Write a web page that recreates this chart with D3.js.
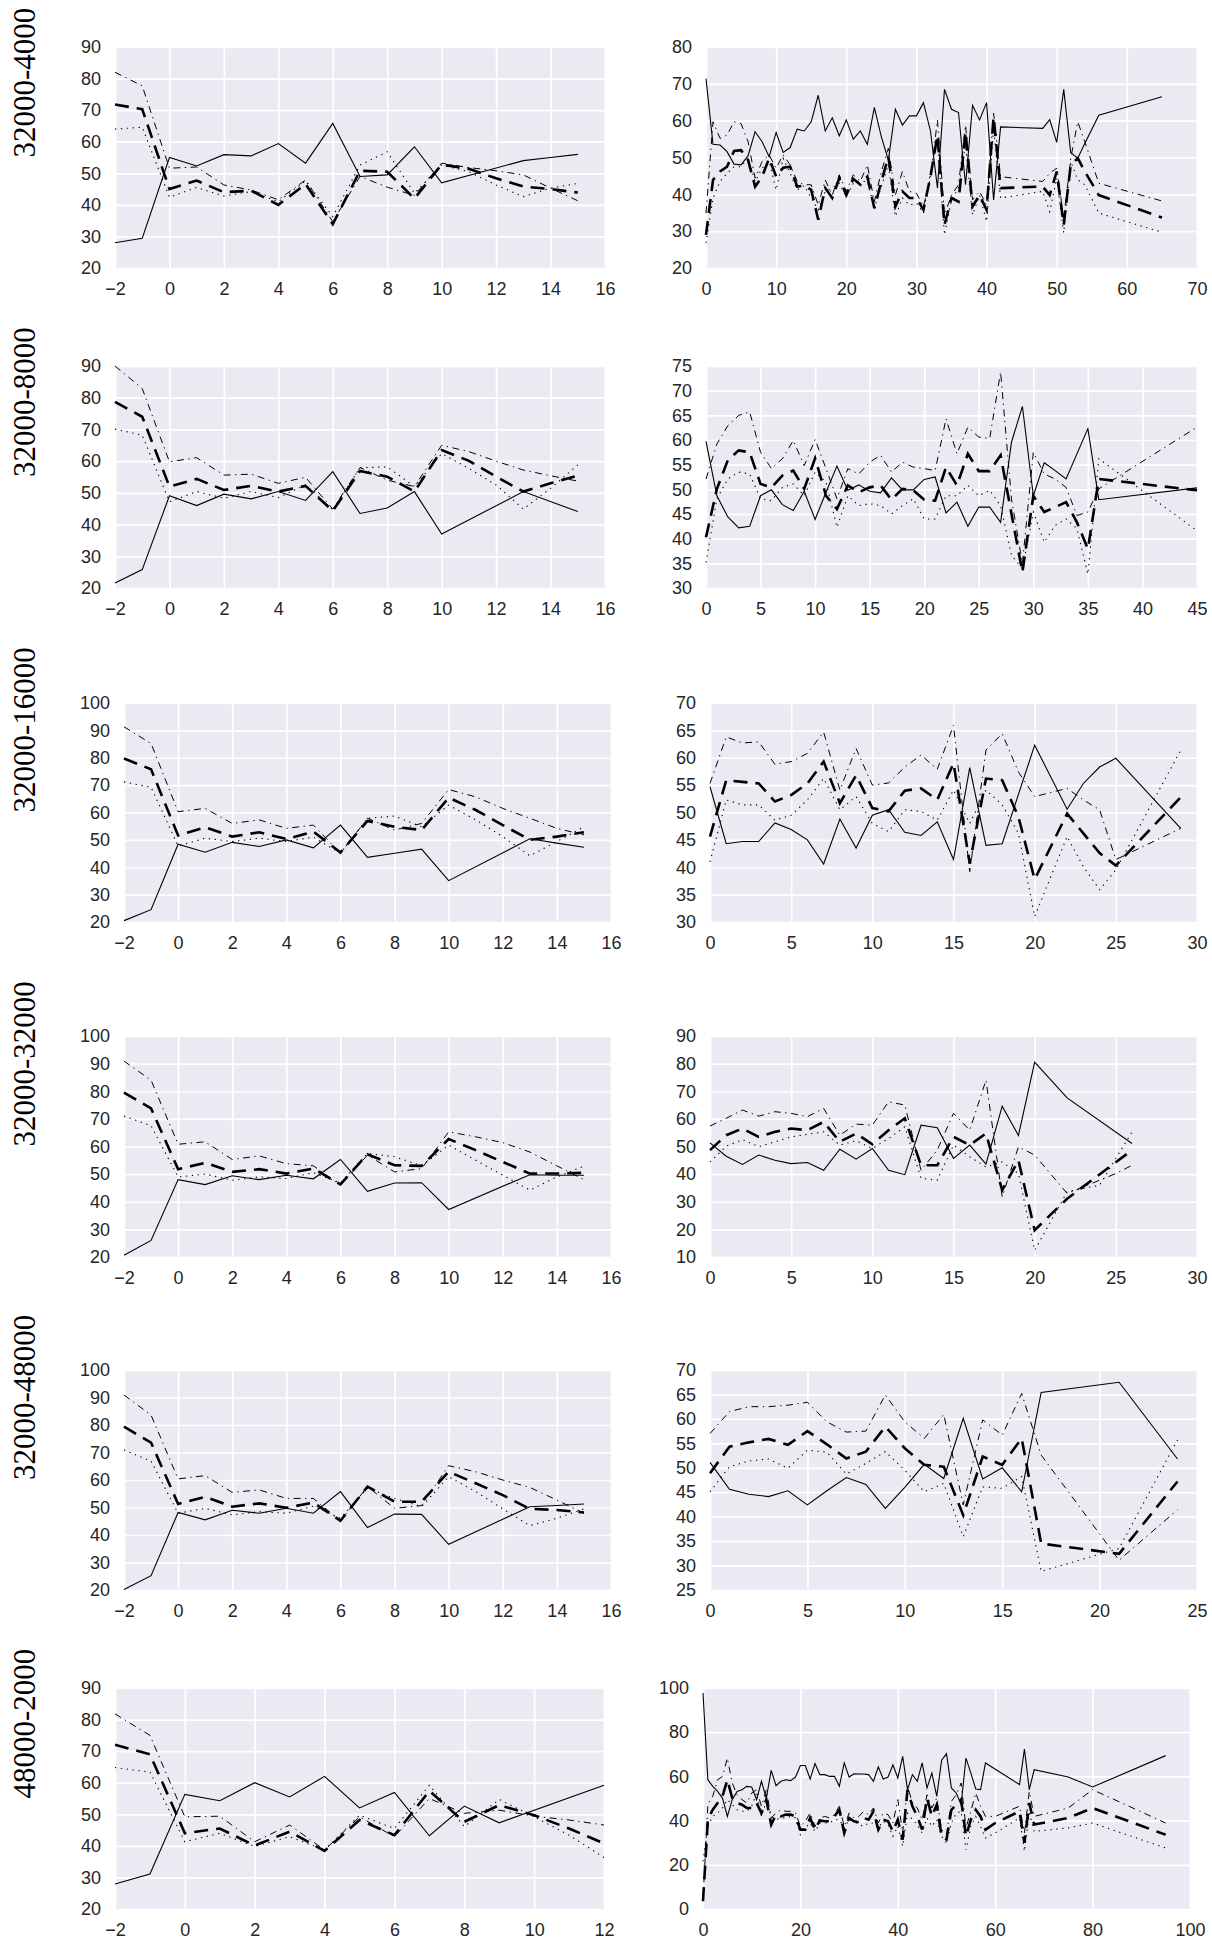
<!DOCTYPE html>
<html><head><meta charset="utf-8">
<script src="https://cdn.jsdelivr.net/npm/d3@7"></script>
<style>body{margin:0;background:#fff}svg{display:block}</style>
</head><body>
<svg id="chart" width="1212" height="1943"></svg>
<script>
// ---------------- DATA ----------------
const rowLabels = ["32000-4000", "32000-8000", "32000-16000", "32000-32000", "32000-48000", "48000-2000"];

// Left column x values
const L_x = [-2, -1, 0, 1, 2, 3, 4, 5, 6, 7, 8, 9, 10, 11, 12, 13, 14, 15];
const L6_x = [-2, -1, 0, 1, 2, 3, 4, 5, 6, 7, 8, 9, 10, 11, 12];

const L1_solid = [28, 29.4, 55, 52.3, 55.9, 55.5, 59.4, 53.2, 65.8, 49, 49.5, 58.4, 47, null, null, 54, 55, 56];
const L1_dashed = [71.8, 70.3, 45, 47.7, 44, 44.5, 40, 46.6, 33.9, 50.8, 50.5, 42, 52.8, 51.4, 48.4, 45.8, 45, 43.9];
const L1_dotted = [64, 64.6, 42.4, 45.5, 42.8, 44.2, 41, 47.6, 36.3, 52.6, 56.8, 43.7, 52.6, 50.5, 46.3, 42.6, 45.3, 46.8];
const L1_dashdot = [82, 77.7, 51.6, 52, 46.3, 44.7, 41.6, 47.9, 34.7, 49, 45.6, 43, 53.2, 51.8, 50.8, 49.5, 45.3, 41.3];

const L2_solid = [21.6, 25.8, 49.1, 46, 49.6, 48.1, 50.4, 47.6, 56.7, 43.5, 45.2, 50.4, 37, null, null, 50.4, null, 44.1];
const L2_dashed = [78.7, 74, 52, 54.4, 50.9, 52.2, 50.4, 52.2, 44.3, 56.9, 55.1, 50.4, 63.5, 60.1, 55.1, 50.4, 53, 55.4];
const L2_dotted = [70.1, 68.2, 47.2, 50.4, 48.3, 50.4, 48.5, 52.5, 44.6, 57.9, 58.2, 52, 62.4, 57.7, 52.5, 44.9, 51.4, 58.8];
const L2_dashdot = [90, 82.9, 59.8, 61.1, 55.6, 55.9, 53, 54.9, 44.9, 58, 54, 52, 65, 63, 60, 57.2, 55.4, 53.7];

const L3_solid = [20.5, 24.5, 48.4, 45.5, 49.1, 47.6, 50, 47.1, 55.4, 43.6, 45.1, 46.6, 35.1, null, null, 50.4, 48.8, 47.3];
const L3_dashed = [79.7, 75.8, 51.6, 54.6, 51.2, 52.8, 50.3, 53, 45.4, 56.9, 54.8, 53.6, 65.4, 60.9, 55.4, 50, 51.2, 52.8];
const L3_dotted = [71.2, 69.2, 47.8, 50.6, 49.4, 50.6, 49.4, 51, 45.1, 57.9, 58.7, 54.8, 62.7, 57.3, 51.2, 44.2, 49.4, 54.8];
const L3_dashdot = [91.3, 85.2, 60.3, 61.5, 56, 57.3, 54.2, 55.4, 45.1, 57.9, 53.6, 56, 68.4, 65.7, 61.5, 57.9, 54.2, 51.8];

const L4_solid = [20.6, 26, 48, 46.2, 49.4, 48, 49.6, 48.3, 55.3, 43.8, 46.8, 46.9, 37.2, null, null, 49.8, 49.6, 49.6];
const L4_dashed = [79.5, 73.8, 51.8, 54.1, 50.8, 51.8, 50.2, 52, 46.3, 57.2, 53.2, 53, 62.7, 58.7, 54.4, 50.2, 50.2, 50.5];
const L4_dotted = [71, 67.5, 49, 50, 47.8, 49, 48.4, 50.5, 46.8, 57.5, 56.3, 53, 60.5, 55, 49.6, 44.2, 49, 52.9];
const L4_dashdot = [90.9, 84, 60.8, 61.7, 55.3, 56.6, 53.8, 53, 46, 56.9, 50.8, 52, 65.3, 63.5, 61.4, 58, 53, 48];

const L5_solid = [20.2, 25.2, 48.2, 45.5, 49, 47.9, 49.7, 47.9, 55.8, 42.7, 47.6, 47.5, 36.6, null, null, 50.3, 50.7, 51.3];
const L5_dashed = [79.4, 73.6, 51.3, 53.9, 50.3, 51.5, 49.9, 51.8, 45.2, 57.6, 52.1, 52.1, 63, 58.8, 54.5, 49.5, 49.1, 48.2];
const L5_dotted = [70.9, 66.9, 47.9, 49.7, 47.3, 48.5, 47.9, 50.5, 46.1, 57, 53.3, 50.3, 61.2, 55.8, 49.5, 43.4, 46.1, 49.5];
const L5_dashdot = [90.9, 83.6, 60.4, 61.6, 55.5, 56.4, 53.3, 53.3, 45.1, 57.6, 49.7, 50.7, 65.2, 63, 60, 57.3, 52.7, 47.9];

const L6_solid = [27.9, 31.1, 56.3, 54.3, 60, 55.5, 62, 52, 56.9, 43.2, 52.6, 47.3, null, null, 59.2];
const L6_dashed = [72, 69, 44, 45.5, 40.1, 44.5, 38.4, 48.2, 43.4, 57.4, 47.6, 52.9, 49.7, 45.5, 40.8];
const L6_dotted = [64.8, 63.4, 41.3, 44, 39.8, 42.9, 38.7, 49.7, 45.5, 59.2, 46.1, 54.7, 49.2, 43.4, 36.3];
const L6_dashdot = [81.8, 75, 49.2, 49.4, 41.3, 46.6, 38.7, 49.2, 42.9, 55, 50.3, 51.3, 49.4, 48.2, 46.6];

// Right column
const R1_x = [0,1,2,3,4,5,6,7,8,9,10,11,12,13,14,15,16,17,18,19,20,21,22,23,24,25,26,27,28,29,30,31,32,33,34,35,36,37,38,39,40,41,42,48,49,50,51,52,53,54,56,65];
const R1_solid = [71.4,53.6,53.4,51.6,48.2,48,50.5,57,54.3,50.2,56.8,51.4,52.7,57.7,57.2,59.7,66.9,57.2,60.8,55.9,60.2,55,57.2,53.6,63.6,55.6,49.3,63.1,58.8,61.3,61.3,64.9,57.2,41.7,68.5,63.1,62.2,42.6,64.2,60.2,64.9,38.5,58.3,57.9,60.3,54.1,68.5,51.3,49.8,53.8,61.5,66.5];
const R1_dashed = [29,43.9,46.2,47.5,51.8,52,49.3,42.1,44.8,49.8,44.8,47.2,47.5,42.1,42.4,41.2,33.1,41.7,39,44.4,39.8,44.2,42.6,44.8,36.2,43.5,50.2,36.7,40.8,39,39,35.8,44.8,56.1,31.7,39,38,57,36.7,39.8,35.8,61,41.7,42.1,39.8,46.2,31.7,48,49.8,46.2,39.8,33.7];
const R1_dotted = [26.8,39,43.5,45.7,47.5,47.5,49.8,43.5,47.1,48.9,41.2,49.8,45.7,41.2,42.4,39,35.8,40.8,41.7,43,39.4,43,43.5,43.5,36.4,42.1,48,34,39,37.1,37.6,34.9,46.2,54.7,29,38.5,41.7,53.4,34.4,39.8,32.6,57.9,39,40.8,35.3,44.4,29.5,48.9,43.9,42.6,34.9,29.7];
const R1_dashdot = [34.9,59.7,55.2,56.1,59.7,59.2,54.3,44.4,48.9,50.7,47.1,50.7,48,43.5,42.6,42.6,37.1,43.9,39.8,45.3,40.8,45.3,43.5,48,38,46.2,52.5,39.8,46.2,40.8,40.3,36.7,44.4,60.2,34.4,39.8,42.6,58.8,38.5,40.8,37.1,62,44.8,43.5,45.7,47.1,33.5,49.8,59.7,54.3,43,38.2];

const R2_x = [0,1,2,3,4,5,6,7,8,9,10,11,12,13,14,15,16,17,18,19,20,21,22,23,24,25,26,27,28,29,30,31,32,33,34,35,36,45];
const R2_solid = [59.7,48.7,44.4,42.2,42.5,48.7,49.9,46.9,45.7,49.6,43.9,49.4,54.7,49.8,50.9,49.6,49.3,52.3,49.9,49.9,52,52.5,45.2,47.4,42.5,46.4,46.4,43.3,59.6,66.8,48.7,55.4,53.8,52.1,null,62.3,47.9,50.3];
const R2_dashed = [40.3,50.1,55.9,57.9,57.5,51.1,50.4,52.8,53.8,50.1,56.3,48.7,46,50.8,49.4,50.4,50.8,47.9,50.1,49.8,47.9,47.7,54.5,50.8,57.2,53.7,53.7,56.9,45,33.2,48.7,45.4,46.4,47.4,43.3,37.9,52.1,49.8];
const R2_dotted = [35.2,48.1,52.1,53.5,53.1,48.1,47.7,50.4,51.1,48.7,53.5,51.5,42.3,48.7,46.7,47.1,46.7,45,46.7,48.1,44,44,48.7,48.7,50.8,48.7,49.8,46.7,36.6,33.9,45.4,39.3,42.7,44,42,32.8,56.2,41.6];
const R2_dashdot = [52.1,59.2,62.9,65,65.7,57.5,54.2,56.2,59.9,54.8,60.1,54.2,48.1,54.2,53.1,55.5,56.9,53.5,55.5,54.5,54.2,53.8,64.3,57.2,62.6,60.6,60.3,73.8,48,35,57.5,53.1,52.1,50.4,44.7,45.4,50.1,62.6];

const R3_x = [0,1,2,3,4,5,6,7,8,9,10,11,12,13,14,15,16,17,18,19,20,22,23,24,25,29];
const R3_solid = [54.7,44.3,44.7,44.7,48.1,46.9,45,40.6,48.8,43.5,49.5,50.5,46.4,45.8,48.3,41.4,58.2,44,44.3,null,62.3,50.6,55.3,58.3,59.9,47.1];
const R3_dashed = [45.6,55.9,55.6,55.3,52,53.2,55.3,59.3,51.7,56.8,50.8,50.2,54,54.4,52.3,59,40.7,56.2,55.9,49.2,37.8,49.8,46.2,42.6,40.3,52.8];
const R3_dotted = [41,52.3,51.4,51.4,48.6,49.5,52.3,56.2,50.5,52.9,48,46.5,50.5,50.2,48.6,54.1,48,54.1,51.4,46.2,31,45.6,40.1,35.9,39.5,61.4];
const R3_dashdot = [55.3,63.8,62.7,62.9,58.8,59.3,60.8,64.7,54.1,61.7,55,55.4,58.3,60.5,57.9,65.9,39.2,61.4,64.4,57.4,52.9,54.4,52.3,50.5,41.4,47.1];

const R4_x = [0,1,2,3,4,5,6,7,8,9,10,11,12,13,14,15,16,17,18,19,20,22,24,25,26];
const R4_solid = [51.3,46.5,43.5,46.9,45,43.8,44.2,41.4,49,45.4,49.3,41.4,39.8,57.7,56.8,45.7,50.5,43.6,64.6,54,80.5,67.6,null,null,51.1];
const R4_dashed = [48.7,54.1,56.5,53.5,55.3,56.5,55.9,58.9,51.7,54.7,50.8,55.9,60.2,43.2,43.2,53.5,50.5,54.7,34.2,45,19.7,31.1,null,null,48.7];
const R4_dotted = [44.4,50.1,52.5,49.9,51.7,53.5,54.4,55.3,50.5,52.1,49.3,52.9,57.1,38.5,37.8,50.5,46.3,42.6,44.4,40.2,12.4,33.6,36,null,55.3];
const R4_dashdot = [57.4,60.2,63.2,61,62.6,62,60.8,63.8,54.1,58.1,57.7,66.2,65,41.4,48.7,62,55.9,74,31.8,49.9,46.9,33,37.8,40.2,43.2];

const R5_x = [0,1,2,3,4,5,6,7,8,9,10,11,12,13,14,15,16,17,21,24];
const R5_solid = [51.1,45.6,44.6,44.1,45.3,42.4,45.3,48,46.6,41.7,46,50.7,47.8,60.1,47.7,50,45.1,65.4,67.5,51.8];
const R5_dashed = [48.9,54.3,55.2,55.9,54.7,57.5,54.8,51.9,53.3,58.4,54,50.6,50.2,40.3,52.3,50.6,56,34.5,32.4,47.2];
const R5_dotted = [45.1,50.2,51.4,51.8,49.9,53.6,53.2,48.7,50.9,53.3,49.5,45.1,46.8,35.9,46.1,45.8,48.2,28.8,33.5,55.7];
const R5_dashdot = [57,61.5,62.5,62.5,62.8,63.4,59.4,57.3,57.5,64.9,59.4,56,60.9,42.4,59.8,56.7,65.2,52.6,31.1,41.4];

const R6_x = [0,1,2,3,4,5,6,7,8,9,10,11,12,13,14,15,16,17,18,19,20,21,22,23,24,25,26,27,28,29,30,31,32,33,34,35,36,37,38,39,40,41,42,43,44,45,46,47,48,49,50,51,52,53,54,55,56,57,58,60,65,66,67,68,75,80,95];
const R6_solid = [97.7,58.5,55.5,53.2,50.2,41.9,49.5,53.2,54,55.5,55.2,49.5,57.8,50.2,62.7,55.8,57.8,58.5,58.1,59.7,64.9,64.9,58.8,65.8,60.8,60.8,60,60,55.5,66.1,59.7,61.2,61.1,61.1,60.8,57.8,64.3,58.8,59.7,65.3,59.3,69.1,54,60.8,57.8,66.1,54.8,61.5,51,67.3,70.3,54.8,52.5,47.2,68.3,61.5,54.3,54,66.1,null,56.3,72.4,54,63,59.7,55.2,69.4];
const R6_dashed = [3.5,40.4,44.9,48,51,58.5,50.2,48,47.2,45.7,45.7,48,43.4,49.5,38.2,42.7,41.9,42.7,42.7,41.9,35.9,35.9,41.2,35.9,40.1,39.7,39.7,41.9,44.9,34.4,41.2,39.7,39.2,41.2,40.4,44.2,35.9,40.4,39.7,35.1,40.4,31.4,54,46.5,41.9,35.9,50.2,41.9,47.2,32.9,31.4,44.9,47.2,49.5,32.9,40.4,44.9,41.9,35.9,38.9,44.2,29.9,48,38.2,41.2,45.7,33.6];
const R6_dotted = [21.6,37.4,41.9,43.4,45.7,49.5,47.2,44.9,44.2,44.2,46.5,52.5,41.9,48.7,41.9,40.4,41.2,41.2,41.9,41.2,33.6,36.7,38.9,35.1,38.9,38.9,38.9,40.4,40.4,36.7,40.4,39.7,38.2,37.4,38.9,38.9,36.7,39.7,38.2,32.9,37.4,28.4,43.4,40.4,38.2,34.4,41.2,37.4,40.4,32.9,29.9,38.9,43.4,44.2,26.8,37.4,41.9,37.4,32.1,34.4,41.2,26.1,43.4,35.1,36.7,38.9,27.6];
const R6_dashdot = [4.2,47.2,51,58.5,60,68.3,57,51.7,49.5,48,52.5,54,46.5,54,41.2,43.4,44.9,44.2,44.2,43.4,37.4,39.7,43.4,37.4,41.2,41.9,41.2,42.7,46.5,37.4,43.4,41.2,41.9,44.2,42.7,45.7,38.9,43.4,42.7,38.9,49.5,34.4,55.5,48,45.7,40.4,51.7,45.7,50.2,35.9,33.6,48.7,51.7,57,36.7,44.2,52.5,46.5,41.9,41.9,46.5,34.4,53.2,41.9,45.7,54,38.9];

// Tick values
const L_xticks = [-2, 0, 2, 4, 6, 8, 10, 12, 14, 16];
const L6_xticks = [-2, 0, 2, 4, 6, 8, 10, 12];
const yt_20_90 = [20, 30, 40, 50, 60, 70, 80, 90];
const yt_20_100 = [20, 30, 40, 50, 60, 70, 80, 90, 100];
const R1_xticks = [0, 10, 20, 30, 40, 50, 60, 70];
const R1_yticks = [20, 30, 40, 50, 60, 70, 80];
const R2_xticks = [0, 5, 10, 15, 20, 25, 30, 35, 40, 45];
const R2_yticks = [30, 35, 40, 45, 50, 55, 60, 65, 70, 75];
const R3_xticks = [0, 5, 10, 15, 20, 25, 30];
const R3_yticks = [30, 35, 40, 45, 50, 55, 60, 65, 70];
const R4_xticks = [0, 5, 10, 15, 20, 25, 30];
const R4_yticks = [10, 20, 30, 40, 50, 60, 70, 80, 90];
const R5_xticks = [0, 5, 10, 15, 20, 25];
const R5_yticks = [25, 30, 35, 40, 45, 50, 55, 60, 65, 70];
const R6_xticks = [0, 20, 40, 60, 80, 100];
const R6_yticks = [0, 20, 40, 60, 80, 100];

// ---------------- LAYOUT ----------------
const rowY = [[47, 268], [366, 588], [703, 922], [1036, 1257], [1370, 1590], [1688, 1909]];
const leftX = [[115, 605], [115, 605], [124, 611], [124, 611], [124, 611], [115, 604]];
const rightX = [[706, 1197], [706, 1197], [710, 1197], [710, 1197], [710, 1197], [703, 1190]];

const panels = [
  {row:0, col:0, x:L_x, s:[L1_solid, L1_dashed, L1_dotted, L1_dashdot], xt:L_xticks, yt:yt_20_90},
  {row:0, col:1, x:R1_x, s:[R1_solid, R1_dashed, R1_dotted, R1_dashdot], xt:R1_xticks, yt:R1_yticks},
  {row:1, col:0, x:L_x, s:[L2_solid, L2_dashed, L2_dotted, L2_dashdot], xt:L_xticks, yt:yt_20_90},
  {row:1, col:1, x:R2_x, s:[R2_solid, R2_dashed, R2_dotted, R2_dashdot], xt:R2_xticks, yt:R2_yticks},
  {row:2, col:0, x:L_x, s:[L3_solid, L3_dashed, L3_dotted, L3_dashdot], xt:L_xticks, yt:yt_20_100},
  {row:2, col:1, x:R3_x, s:[R3_solid, R3_dashed, R3_dotted, R3_dashdot], xt:R3_xticks, yt:R3_yticks},
  {row:3, col:0, x:L_x, s:[L4_solid, L4_dashed, L4_dotted, L4_dashdot], xt:L_xticks, yt:yt_20_100},
  {row:3, col:1, x:R4_x, s:[R4_solid, R4_dashed, R4_dotted, R4_dashdot], xt:R4_xticks, yt:R4_yticks},
  {row:4, col:0, x:L_x, s:[L5_solid, L5_dashed, L5_dotted, L5_dashdot], xt:L_xticks, yt:yt_20_100},
  {row:4, col:1, x:R5_x, s:[R5_solid, R5_dashed, R5_dotted, R5_dashdot], xt:R5_xticks, yt:R5_yticks},
  {row:5, col:0, x:L6_x, s:[L6_solid, L6_dashed, L6_dotted, L6_dashdot], xt:L6_xticks, yt:yt_20_90},
  {row:5, col:1, x:R6_x, s:[R6_solid, R6_dashed, R6_dotted, R6_dashdot], xt:R6_xticks, yt:R6_yticks}
];

const styles = [
  {w: 1.1, dash: null},
  {w: 2.6, dash: "14,8"},
  {w: 1.1, dash: "1.3,4.6"},
  {w: 1.0, dash: "7,4.5,1.3,4.5"}
];

const svg = d3.select("#chart");
const FONT = "'Liberation Sans', Arial, sans-serif";

panels.forEach(p => {
  const [y0, y1] = rowY[p.row];
  const [x0, x1] = (p.col === 0 ? leftX : rightX)[p.row];
  const w = x1 - x0, h = y1 - y0;
  const xs = d3.scaleLinear().domain(d3.extent(p.xt)).range([0, w]);
  const ys = d3.scaleLinear().domain(d3.extent(p.yt)).range([h, 0]);
  const g = svg.append("g").attr("transform", `translate(${x0},${y0})`);
  g.append("rect").attr("width", w).attr("height", h).attr("fill", "#EAEAF2");

  const ax = g.append("g").attr("transform", `translate(0,${h})`)
    .call(d3.axisBottom(xs).tickValues(p.xt).tickSize(-h).tickPadding(14).tickFormat(d3.format("d")));
  const ay = g.append("g")
    .call(d3.axisLeft(ys).tickValues(p.yt).tickSize(-w).tickPadding(14).tickFormat(d3.format("d")));
  [ax, ay].forEach(a => {
    a.select(".domain").remove();
    a.selectAll(".tick line").attr("stroke", "#ffffff").attr("stroke-width", 1.7);
    a.selectAll(".tick text").attr("fill", "#262626").style("font-family", FONT).style("font-size", "18px");
  });

  const line = d3.line().x(d => xs(d[0])).y(d => ys(d[1]));
  p.s.forEach((arr, i) => {
    const pts = p.x.map((xv, k) => [xv, arr[k]]).filter(d => d[1] != null);
    const st = styles[i];
    g.append("path").datum(pts).attr("d", line)
      .attr("fill", "none").attr("stroke", "#000").attr("stroke-width", st.w)
      .attr("stroke-dasharray", st.dash).attr("stroke-linejoin", "miter");
  });
});

rowLabels.forEach((t, r) => {
  const yc = (rowY[r][0] + rowY[r][1]) / 2;
  svg.append("text").attr("x", 35).attr("y", yc)
    .attr("transform", `rotate(-90,35,${yc})`)
    .attr("text-anchor", "start")
    .style("font-family", "'Liberation Serif', 'DejaVu Serif', serif")
    .style("font-size", "31px").attr("fill", "#000").text(t);
});
</script>
</body></html>
